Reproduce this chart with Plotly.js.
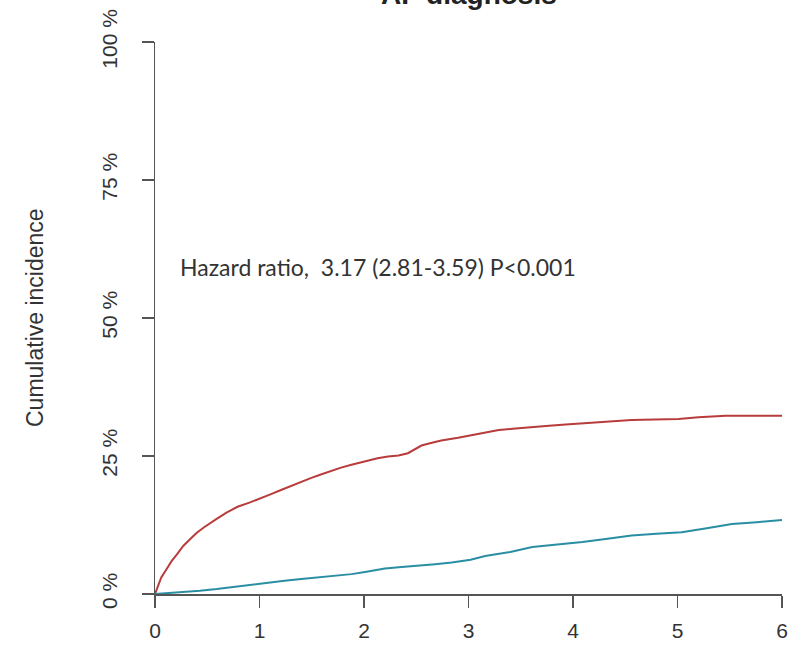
<!DOCTYPE html>
<html>
<head>
<meta charset="utf-8">
<script src="https://cdn.plot.ly/plotly-3.0.1.min.js"></script>
<style>html,body{margin:0;padding:0;background:#fff;}#chart{width:805px;height:652px;}</style>
</head>
<body>
<div id="chart"></div>
<script>
// Years since index
const redX = [0,0.03,0.06,0.11,0.16,0.21,0.27,0.34,0.40,0.47,0.53,0.59,0.68,0.79,0.91,1.01,1.11,1.20,1.30,1.40,1.49,1.58,1.68,1.78,1.88,2.00,2.13,2.23,2.33,2.42,2.48,2.55,2.65,2.74,2.90,3.02,3.15,3.29,3.45,3.61,3.77,3.93,4.08,4.24,4.40,4.56,4.78,5.01,5.20,5.46,5.70,6.00];
const redY = [0,1.5,3.0,4.5,6.0,7.2,8.7,10.0,11.1,12.1,12.9,13.6,14.7,15.8,16.6,17.3,18.1,18.8,19.6,20.3,21.0,21.6,22.3,22.9,23.4,24.0,24.6,24.9,25.1,25.5,26.2,26.9,27.4,27.8,28.3,28.7,29.2,29.7,30.0,30.3,30.5,30.7,30.9,31.1,31.3,31.5,31.6,31.7,32.0,32.3,32.3,32.3];
const blueX = [0,0.14,0.27,0.43,0.59,0.75,0.91,1.08,1.24,1.40,1.56,1.72,1.88,2.01,2.20,2.36,2.52,2.68,2.84,3.02,3.16,3.40,3.61,3.85,4.09,4.33,4.56,4.80,5.04,5.28,5.52,5.76,6.00];
const blueY = [0,0.2,0.3,0.6,0.9,1.3,1.7,2.1,2.4,2.7,3.0,3.3,3.6,4.0,4.6,4.9,5.1,5.4,5.7,6.2,6.9,7.6,8.5,8.9,9.4,10.0,10.6,10.9,11.2,11.9,12.7,13.0,13.4];
const xTicks = [0,1,2,3,4,5,6];
const xTickText = ['0','1','2','3','4','5','6'];
const yTicks = [0,25,50,75,100];
const yTickText = ['0 %','25 %','50 %','75 %','100 %'];
const titleText = 'AF diagnosis';
const yTitle = 'Cumulative incidence';
const hrText = 'Hazard ratio,  3.17 (2.81-3.59) P<0.001';
const hrPos = [0.22, 59.2];

const traces = [
  {x: redX, y: redY, type: 'scatter', mode: 'lines', line: {color: '#b83c3c', width: 2}, hoverinfo: 'skip'},
  {x: blueX, y: blueY, type: 'scatter', mode: 'lines', line: {color: '#2a8ea3', width: 2}, hoverinfo: 'skip'}
];

const layout = {
  width: 805, height: 652,
  margin: {l: 155, r: 23, t: 42, b: 58},
  paper_bgcolor: '#fff', plot_bgcolor: '#fff',
  showlegend: false,
  font: {family: 'Liberation Sans, Arial, sans-serif', color: '#333'},
  xaxis: {
    range: [0, 6], tickvals: xTicks, ticktext: xTickText,
    showgrid: false, zeroline: false, showline: true, linecolor: '#555', linewidth: 1.5,
    ticks: 'outside', ticklen: 12, tickwidth: 1.5, tickcolor: '#555',
    tickfont: {size: 21, color: '#333'}, ticklabelstandoff: 5
  },
  yaxis: {
    range: [0, 100], tickvals: yTicks, ticktext: yTickText,
    showgrid: false, zeroline: false, showline: true, linecolor: '#555', linewidth: 1.5,
    ticks: 'outside', ticklen: 12, tickwidth: 1.5, tickcolor: '#555',
    tickangle: -90, tickfont: {size: 21, color: '#333'}, ticklabelstandoff: 16
  },
  annotations: [
    {text: '<b>' + titleText + '</b>', xref: 'paper', yref: 'paper', x: 0.5, y: 1 + 30/553,
     xanchor: 'center', yanchor: 'bottom', showarrow: false, font: {size: 28, color: '#222'}},
    {text: yTitle, xref: 'paper', yref: 'paper', x: -120/627, y: 0.5, textangle: -90,
     xanchor: 'center', yanchor: 'middle', showarrow: false, font: {size: 23, color: '#333'}},
    {text: hrText, xref: 'x', yref: 'y', x: hrPos[0], y: hrPos[1],
     xanchor: 'left', yanchor: 'middle', showarrow: false,
     font: {family: 'Lato, sans-serif', size: 23, color: '#333'}}
  ]
};

Plotly.newPlot('chart', traces, layout, {displayModeBar: false, staticPlot: true});
</script>
</body>
</html>
